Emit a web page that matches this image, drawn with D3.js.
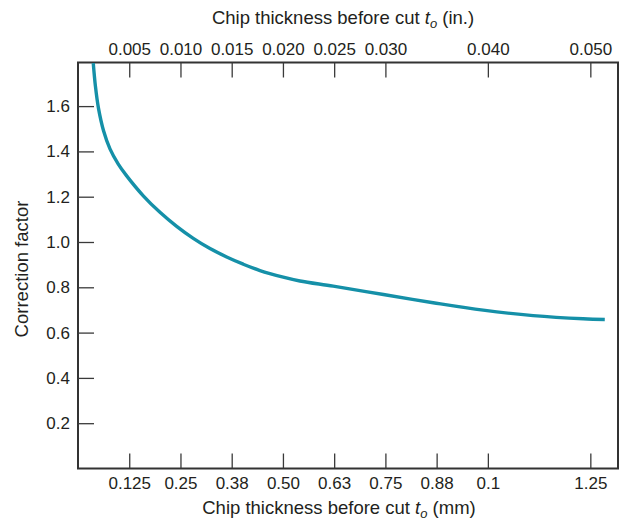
<!DOCTYPE html>
<html>
<head>
<meta charset="utf-8">
<script src="https://cdn.jsdelivr.net/npm/d3@7"></script>
<style>
  html, body { margin: 0; padding: 0; background: #fff; }
  svg { display: block; }
  text { font-family: "Liberation Sans", Arial, Helvetica, sans-serif; fill: #231f20; }
</style>
</head>
<body>
<svg id="chart" width="624" height="521"></svg>
<script>
// Curve: chip thickness (in.) vs correction factor
const thicknessIn = [0.00149, 0.00170, 0.00200, 0.00250, 0.00312, 0.00393, 0.00475, 0.00637, 0.00800, 0.00963, 0.01125, 0.01288, 0.01451, 0.01613, 0.01776, 0.02003, 0.02166, 0.02491, 0.02981, 0.03466, 0.03954, 0.04442, 0.04930, 0.05141];
const correction  = [1.79, 1.688, 1.590, 1.490, 1.411, 1.344, 1.292, 1.204, 1.131, 1.069, 1.016, 0.971, 0.934, 0.902, 0.874, 0.845, 0.828, 0.805, 0.768, 0.732, 0.699, 0.675, 0.661, 0.658];

// Top axis (inches)
const topTicks  = [0.005, 0.010, 0.015, 0.020, 0.025, 0.030, 0.040, 0.050];
const topLabels = ["0.005", "0.010", "0.015", "0.020", "0.025", "0.030", "0.040", "0.050"];
// Bottom axis (mm labels at inch positions)
const bottomTicks  = [0.005, 0.010, 0.015, 0.020, 0.025, 0.030, 0.035, 0.040, 0.050];
const bottomLabels = ["0.125", "0.25", "0.38", "0.50", "0.63", "0.75", "0.88", "0.1", "1.25"];
// Left axis
const yTicks  = [0.2, 0.4, 0.6, 0.8, 1.0, 1.2, 1.4, 1.6];
const yLabels = ["0.2", "0.4", "0.6", "0.8", "1.0", "1.2", "1.4", "1.6"];

const svg = d3.select("#chart");
const L = 78, R = 618, T = 62.5, B = 468.5;

const x = d3.scaleLinear().domain([0, 0.0527]).range([L, R]);
const y = d3.scaleLinear().domain([0, 1.7925]).range([B, T]);

const axisColor = "#3a3a3a";
const tickFont = 17;
const titleFont = 18.5;

// Frame
svg.append("rect")
  .attr("x", L).attr("y", T).attr("width", R - L).attr("height", B - T)
  .attr("fill", "none").attr("stroke", "#333").attr("stroke-width", 2);

// Bottom axis
const gB = svg.append("g").attr("transform", `translate(0,${B})`)
  .call(d3.axisBottom(x).tickValues(bottomTicks)
    .tickFormat((d, i) => bottomLabels[i]).tickSizeInner(-15).tickSizeOuter(0).tickPadding(8));
// Top axis
const gT = svg.append("g").attr("transform", `translate(0,${T})`)
  .call(d3.axisTop(x).tickValues(topTicks)
    .tickFormat((d, i) => topLabels[i]).tickSizeInner(-15).tickSizeOuter(0).tickPadding(8));
// Left axis
const gL = svg.append("g").attr("transform", `translate(${L},0)`)
  .call(d3.axisLeft(y).tickValues(yTicks)
    .tickFormat((d, i) => yLabels[i]).tickSizeInner(-16).tickSizeOuter(0).tickPadding(8));

[gB, gT, gL].forEach(g => {
  g.select(".domain").remove();
  g.selectAll(".tick line").attr("stroke", axisColor).attr("stroke-width", 1.3);
  g.selectAll(".tick text").attr("font-size", tickFont).attr("fill", "#231f20")
    .attr("font-family", "'Liberation Sans', Arial, sans-serif");
});

// Curve
const line = d3.line()
  .x((d, i) => x(thicknessIn[i]))
  .y((d, i) => y(correction[i]))
  .curve(d3.curveCatmullRom.alpha(0.5));

svg.append("path")
  .datum(correction)
  .attr("d", line)
  .attr("fill", "none")
  .attr("stroke", "#1590a8")
  .attr("stroke-width", 3.4);

// Titles
const topTitle = svg.append("text")
  .attr("x", 343).attr("y", 24)
  .attr("text-anchor", "middle").attr("font-size", titleFont);
topTitle.append("tspan").text("Chip thickness before cut ");
topTitle.append("tspan").attr("font-style", "italic").text("t");
topTitle.append("tspan").attr("font-style", "italic").attr("font-size", 13).attr("dy", 4).text("o");
topTitle.append("tspan").attr("dy", -4).text(" (in.)");

const botTitle = svg.append("text")
  .attr("x", 339).attr("y", 514)
  .attr("text-anchor", "middle").attr("font-size", titleFont);
botTitle.append("tspan").text("Chip thickness before cut ");
botTitle.append("tspan").attr("font-style", "italic").text("t");
botTitle.append("tspan").attr("font-style", "italic").attr("font-size", 13).attr("dy", 4).text("o");
botTitle.append("tspan").attr("dy", -4).text(" (mm)");

svg.append("text")
  .attr("transform", `translate(28,269) rotate(-90)`)
  .attr("text-anchor", "middle").attr("font-size", titleFont)
  .text("Correction factor");
</script>
</body>
</html>
